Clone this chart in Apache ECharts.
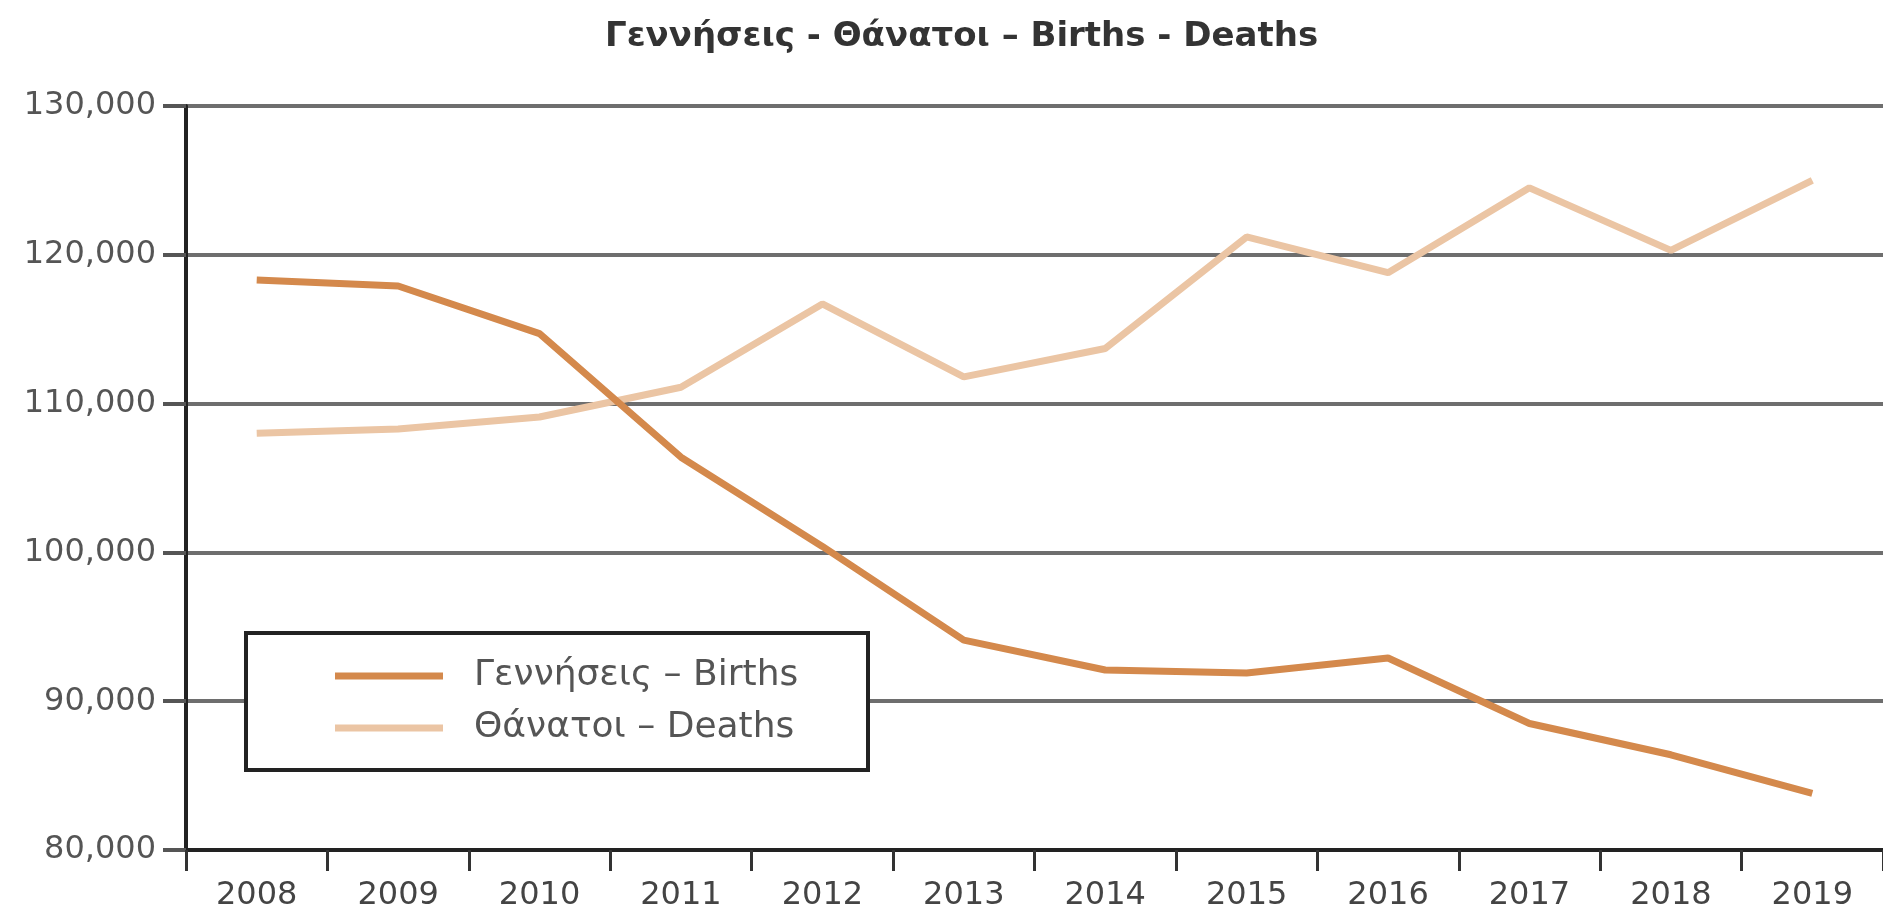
<!DOCTYPE html>
<html>
<head>
<meta charset="utf-8">
<script src="https://cdn.jsdelivr.net/npm/echarts@6/dist/echarts.min.js"></script>
<style>
html,body{margin:0;padding:0;background:#fff;}
#c{width:1883px;height:916px;}
</style>
</head>
<body>
<div id="c"></div>
<script>
const titleText = 'Γεννήσεις - Θάνατοι – Births - Deaths';
const years = ['2008','2009','2010','2011','2012','2013','2014','2015','2016','2017','2018','2019'];
const birthsName = 'Γεννήσεις – Births';
const deathsName = 'Θάνατοι – Deaths';
const births = [118300, 117900, 114700, 106400, 100400, 94100, 92100, 91900, 92900, 88500, 86400, 83800];
const deaths = [108000, 108300, 109100, 111100, 116700, 111800, 113700, 121200, 118800, 124500, 120300, 125000];
const yMin = 80000, yMax = 130000, yStep = 10000;

const chart = echarts.init(document.getElementById('c'), null, {renderer:'canvas'});
const font = '"DejaVu Sans", "Liberation Sans", Arial, sans-serif';
chart.setOption({
  animation: false,
  backgroundColor: '#ffffff',
  title: {
    text: titleText, left: 600, top: 15,
    textStyle: {fontFamily: font, fontSize: 34, fontWeight: 'bold', color: '#333'}
  },
  grid: {left: 186, top: 106, width: 1708, height: 744, containLabel: false},
  xAxis: {
    type: 'category', data: years, boundaryGap: true,
    axisLine: {lineStyle: {color: '#222', width: 4}},
    axisTick: {show: true, length: 21, lineStyle: {color: '#333', width: 3}},
    axisLabel: {fontFamily: font, fontSize: 32, color: '#444', margin: 30}
  },
  yAxis: {
    type: 'value', min: yMin, max: yMax, interval: yStep,
    axisLine: {show: true, lineStyle: {color: '#222', width: 4}},
    axisTick: {show: true, length: 23, lineStyle: {color: '#555', width: 4}},
    axisLabel: {fontFamily: font, fontSize: 32, color: '#555', margin: 30,
      formatter: v => v.toLocaleString('en-US')},
    splitLine: {lineStyle: {color: '#6e6e6e', width: 4}}
  },
  graphic: [{
    type: 'rect', z: 50,
    shape: {x: 246, y: 633, width: 622, height: 137},
    style: {fill: '#fff', stroke: '#222', lineWidth: 4}
  }],
  legend: {
    z: 60, orient: 'vertical', left: 330, top: 651,
    icon: 'rect', itemWidth: 108, itemHeight: 7, itemGap: 12,
    data: [birthsName, deathsName],
    textStyle: {fontFamily: font, fontSize: 36, color: '#555', lineHeight: 40, padding: [0,0,0,26]}
  },
  series: [
    {name: birthsName, type: 'line', data: births, showSymbol: false, symbol: 'none',
     lineStyle: {color: '#D4894C', width: 7}, itemStyle: {color: '#D4894C'}, z: 3},
    {name: deathsName, type: 'line', data: deaths, showSymbol: false, symbol: 'none',
     lineStyle: {color: '#EBC5A4', width: 7}, itemStyle: {color: '#EBC5A4'}, z: 2}
  ]
});
</script>
</body>
</html>
